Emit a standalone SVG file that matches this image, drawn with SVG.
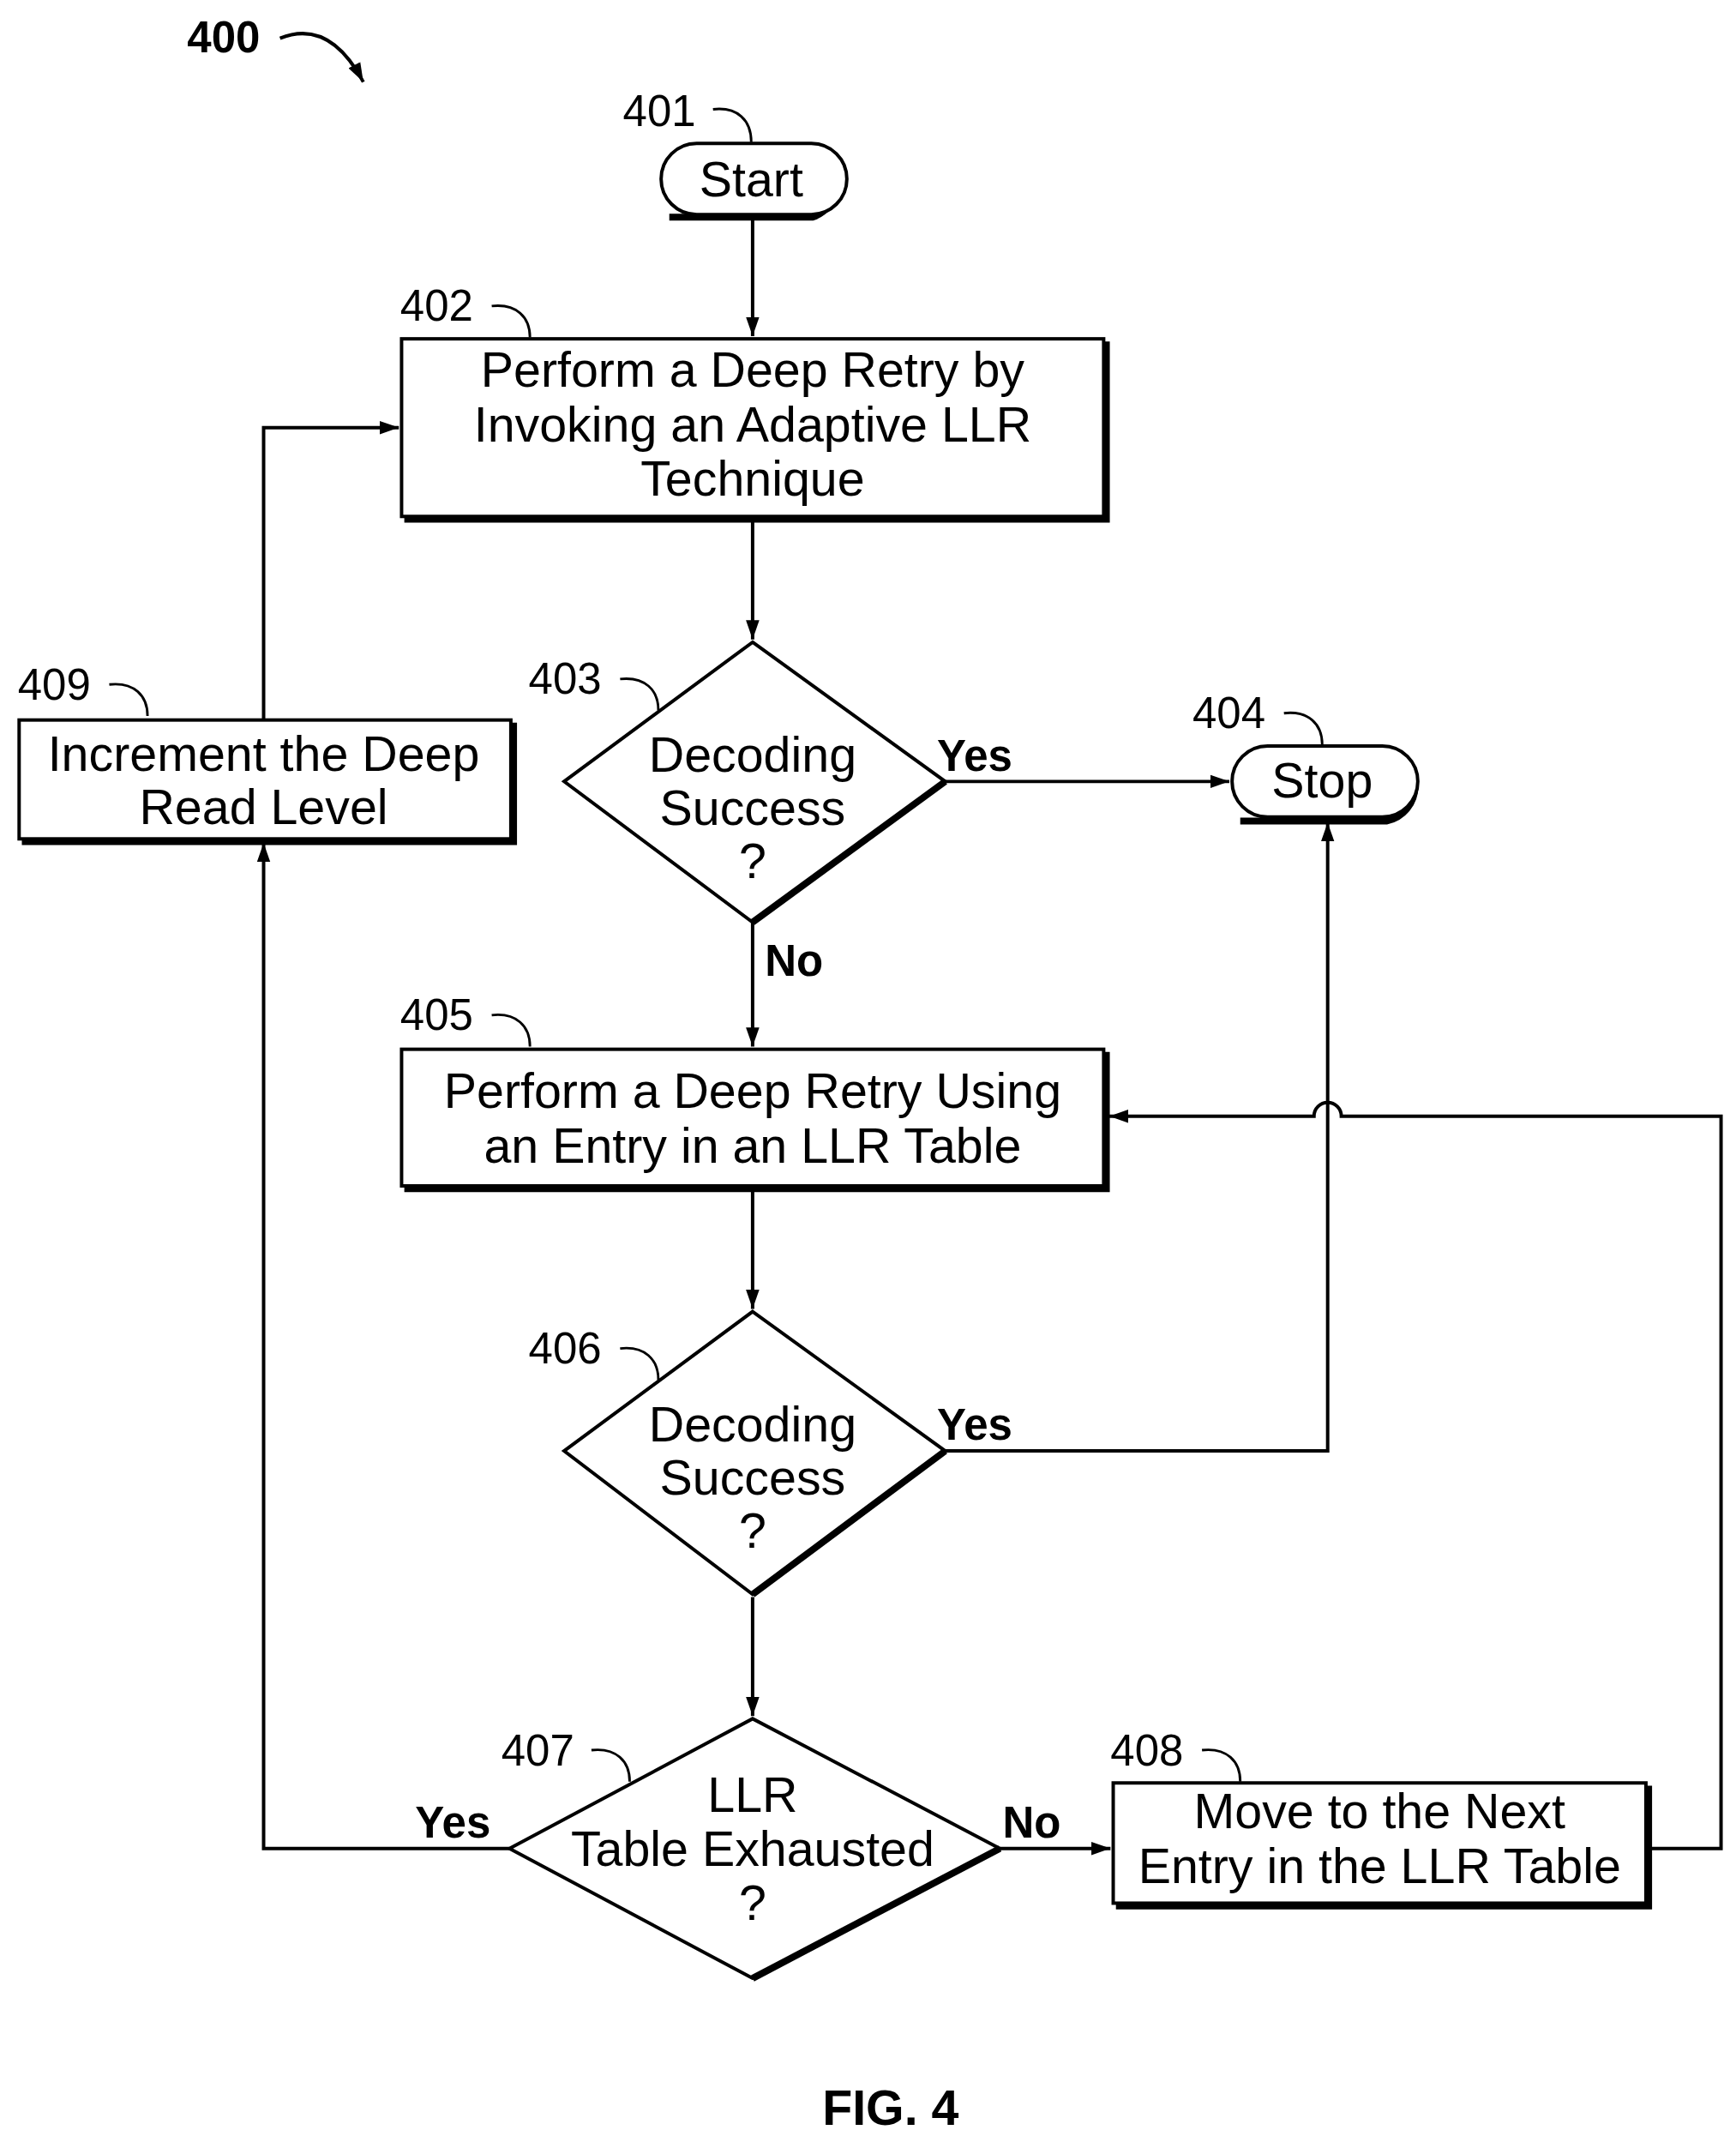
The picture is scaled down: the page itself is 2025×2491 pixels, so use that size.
<svg xmlns="http://www.w3.org/2000/svg" width="2025" height="2491" viewBox="0 0 2025 2491">
<defs>
<style>
.t{font-family:"Liberation Sans",Arial,sans-serif;font-size:36px;text-anchor:middle;fill:#000}
.l{font-family:"Liberation Sans",Arial,sans-serif;font-size:32px;fill:#000}
.b{font-family:"Liberation Sans",Arial,sans-serif;font-size:32px;font-weight:bold;fill:#000}
.s{fill:#fff;stroke:#000;stroke-width:2.5}
.sh{fill:none;stroke:#000;stroke-width:5}
.c{fill:none;stroke:#000;stroke-width:2.5}
.ld{fill:none;stroke:#000;stroke-width:1.8}
</style>
<marker id="a" viewBox="0 0 10 10" refX="10" refY="5" markerWidth="14" markerHeight="14" markerUnits="userSpaceOnUse" orient="auto"><path d="M0,1.5L10,5L0,8.5z" fill="#000"/></marker>
</defs>
<rect width="2025" height="2491" fill="#fff"/>
<g transform="scale(1.5933)">
<g id="label400"><text class="b" x="137" y="38">400</text><path class="c" d="M205,28 C230,18 250,30 266,60" marker-end="url(#a)"/></g>
<g id="connectors">
<path class="c" d="M551,157V246" marker-end="url(#a)"/>
<path class="c" d="M551,380V468" marker-end="url(#a)"/>
<path class="c" d="M692,572H900" marker-end="url(#a)"/>
<path class="c" d="M551,675V766" marker-end="url(#a)"/>
<path class="c" d="M551,870V958" marker-end="url(#a)"/>
<path class="c" d="M692,1062H972V602" marker-end="url(#a)"/>
<path class="c" d="M1207,1353H1260V817H982A10,10 0 0 0 962,817H812" marker-end="url(#a)"/>
<path class="c" d="M551,1169V1256" marker-end="url(#a)"/>
<path class="c" d="M732,1353H813" marker-end="url(#a)"/>
<path class="c" d="M373,1353H193V617" marker-end="url(#a)"/>
<path class="c" d="M193,527V313H292" marker-end="url(#a)"/>
<text class="b" x="686" y="564">Yes</text>
<text class="b" x="560" y="714">No</text>
<text class="b" x="686" y="1054">Yes</text>
<text class="b" x="734" y="1345">No</text>
<text class="b" x="304" y="1345">Yes</text>
</g>
<g id="n401"><path class="sh" d="M595,110A26,26 0 0 1 595,159H490"/><rect class="s" x="484" y="105" width="136" height="52" rx="26"/><text class="t" x="550" y="144">Start</text><text class="l" x="456" y="92">401</text><path class="ld" d="M522,80C540,78 550,88 550,104"/></g>
<g id="n402"><path class="sh" d="M810,250V380H296"/><rect class="s" x="294" y="248" width="514" height="130"/><text class="t" x="551" y="283">Perform a Deep Retry by</text><text class="t" x="551" y="323">Invoking an Adaptive LLR</text><text class="t" x="551" y="363">Technique</text><text class="l" x="293" y="235">402</text><path class="ld" d="M360,224C378,222 388,232 388,247"/></g>
<g id="n403"><polygon class="s" points="551,470 692,572 551,675 413,572"/><path class="sh" d="M692,572L551,675"/><text class="t" x="551" y="565">Decoding</text><text class="t" x="551" y="604">Success</text><text class="t" x="551" y="643">?</text><text class="l" x="387" y="508">403</text><path class="ld" d="M454,497C472,495 482,505 482,520"/></g>
<g id="n404"><path class="sh" d="M1015,550A26,26 0 0 1 1015,601H908"/><rect class="s" x="902" y="546" width="136" height="52" rx="26"/><text class="t" x="968" y="584">Stop</text><text class="l" x="873" y="533">404</text><path class="ld" d="M940,522C958,520 968,530 968,545"/></g>
<g id="n405"><path class="sh" d="M810,770V870H296"/><rect class="s" x="294" y="768" width="514" height="100"/><text class="t" x="551" y="811">Perform a Deep Retry Using</text><text class="t" x="551" y="851">an Entry in an LLR Table</text><text class="l" x="293" y="754">405</text><path class="ld" d="M360,743C378,741 388,751 388,766"/></g>
<g id="n406"><polygon class="s" points="551,960 692,1062 551,1167 413,1062"/><path class="sh" d="M692,1062L551,1167"/><text class="t" x="551" y="1055">Decoding</text><text class="t" x="551" y="1094">Success</text><text class="t" x="551" y="1133">?</text><text class="l" x="387" y="998">406</text><path class="ld" d="M454,987C472,985 482,995 482,1010"/></g>
<g id="n407"><polygon class="s" points="551,1258 732,1353 551,1448 373,1353"/><path class="sh" d="M732,1353L551,1448"/><text class="t" x="551" y="1326">LLR</text><text class="t" x="551" y="1366">Table Exhausted</text><text class="t" x="551" y="1405">?</text><text class="l" x="367" y="1292">407</text><path class="ld" d="M433,1281C451,1279 461,1289 461,1304"/></g>
<g id="n408"><path class="sh" d="M1207,1307V1395H817"/><rect class="s" x="815" y="1305" width="390" height="88"/><text class="t" x="1010" y="1338">Move to the Next</text><text class="t" x="1010" y="1378">Entry in the LLR Table</text><text class="l" x="813" y="1292">408</text><path class="ld" d="M880,1281C898,1279 908,1289 908,1304"/></g>
<g id="n409"><path class="sh" d="M376,529V616H16"/><rect class="s" x="14" y="527" width="360" height="87"/><text class="t" x="193" y="564">Increment the Deep</text><text class="t" x="193" y="603">Read Level</text><text class="l" x="13" y="512">409</text><path class="ld" d="M80,501C98,499 108,509 108,524"/></g>
<text class="b" x="652" y="1555" style="font-size:36px;text-anchor:middle">FIG. 4</text>
</g>
</svg>
